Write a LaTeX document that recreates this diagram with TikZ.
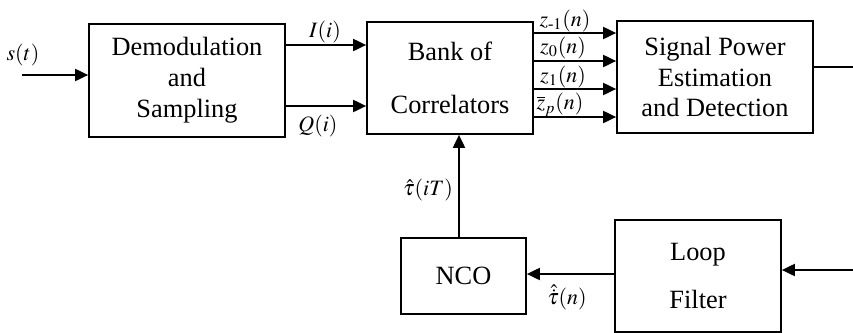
\documentclass[tikz,border=0pt]{standalone}
\usepackage{amsmath}
\usepackage{mathptmx}
\usepackage{fontspec}
\setmainfont{Liberation Serif}
\usetikzlibrary{arrows.meta}

\begin{document}
\begin{tikzpicture}[
  x=0.02cm,
  y=-0.02cm,
  line width=1pt,
  block/.style={draw, line width=1pt, align=center, inner sep=0pt,
    font=\fontsize{15}{17.6}\selectfont},
  sig/.style={-{Triangle[length=2.6mm,width=2.4mm]}, line width=1.1pt},
  lbl/.style={inner sep=0pt, font=\fontsize{12.5}{14}\selectfont}
]
  \useasboundingbox (0,0) rectangle (853,332);

  \node[block, minimum width=3.92cm, minimum height=2.26cm] (demod) at (187,80.5) {Demodulation\\and\\Sampling};
  \node[block, minimum width=3.32cm, minimum height=2.24cm] (bank) at (450,78) {Bank of\\[12.4pt]Correlators};
  \node[block, minimum width=3.92cm, minimum height=2.24cm] (power) at (715,77) {Signal Power\\Estimation\\and Detection};
  \node[block, minimum width=2.5cm, minimum height=1.52cm] (nco) at (463.5,276) {NCO};
  \node[block, minimum width=3.32cm, minimum height=2.24cm] (filter) at (698,276) {Loop\\[9.4pt]Filter};

  \coordinate (sin) at (22,75);
  \coordinate (iy) at (320,45);
  \coordinate (qy) at (320,106);
  \coordinate (zm1) at (575,33);
  \coordinate (z0) at (575,61);
  \coordinate (zp1) at (575,89);
  \coordinate (zp) at (575,117);
  \coordinate (out) at (853,67);
  \coordinate (fin) at (853,270);
  \coordinate (tn) at (570,274);
  \coordinate (tx) at (459,190);

  \draw[sig] (sin) -- (sin -| demod.west);
  \draw[sig] (iy -| demod.east) -- (iy -| bank.west);
  \draw[sig] (qy -| demod.east) -- (qy -| bank.west);

  \draw[sig] (zm1 -| bank.east) -- (zm1 -| power.west);
  \draw[sig] (z0 -| bank.east) -- (z0 -| power.west);
  \draw[sig] (zp1 -| bank.east) -- (zp1 -| power.west);
  \draw[sig] (zp -| bank.east) -- (zp -| power.west);

  \draw[line width=1.1pt] (out -| power.east) -- (out);
  \draw[sig] (fin) -- (fin -| filter.east);
  \draw[sig] (tn -| filter.west) -- (tn -| nco.east);
  \draw[sig] (tx |- nco.north) -- (tx |- bank.south);

  \node[lbl] (ls) at (23,55) {$s(t)$};
  \node[lbl] (li) at (325,32) {$I(i)$};
  \node[lbl] (lq) at (318,126) {$Q(i)$};
  \node[lbl] (lzm1) at (565,21) {$z_{\text{-}1}(n)$};
  \node[lbl] (lz0) at (563,48) {$z_0(n)$};
  \node[lbl] (lzp1) at (563,77) {$z_1(n)$};
  \node[lbl] (lzp) at (560,105) {$\overline{z}_p(n)$};
  \node[lbl] (ltx) at (428,190) {$\hat{\tau}(iT)$};
  \node[lbl] (ltn) at (567,297) {$\hat{\dot{\tau}}(n)$};
\end{tikzpicture}
\end{document}
